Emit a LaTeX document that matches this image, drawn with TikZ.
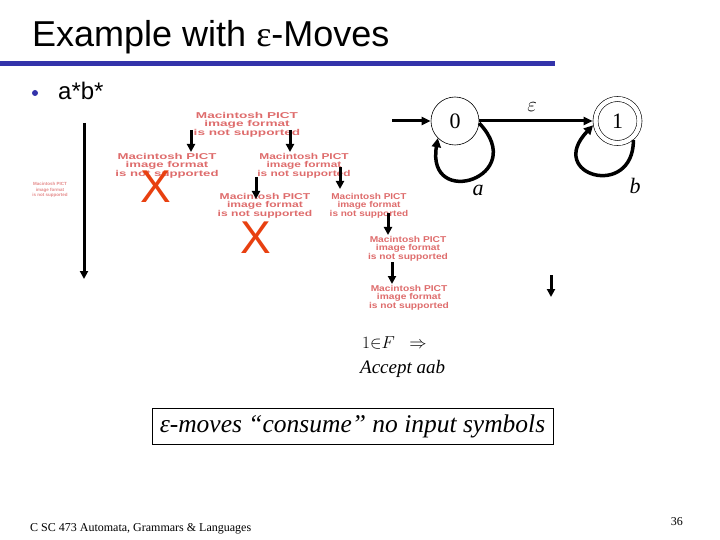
\documentclass[tikz,border=0pt]{standalone}
\usepackage{fontspec}
\setmainfont{Liberation Serif}
\setsansfont{Liberation Sans}
\usetikzlibrary{arrows.meta,positioning}

\definecolor{rulebar}{RGB}{51,51,170}
\definecolor{pictred}{RGB}{222,108,108}
\definecolor{crossred}{RGB}{232,64,16}

% placeholder text of the missing pictures
\newcommand{\pictmsg}[1][1.6]{\scalebox{#1}[1]{\def\arraystretch{0.85}%
  \begin{tabular}{@{}c@{}}Macintosh PICT\\image format\\is not supported\end{tabular}}}

\tikzset{
  pict/.style={font=\sffamily\bfseries\fontsize{8.5}{9}\selectfont, text=pictred, inner sep=0pt},
  tinypict/.style={font=\sffamily\bfseries\fontsize{4.5}{6.7}\selectfont, text=pictred!80, inner sep=0pt},
  cross/.style={font=\sffamily\fontsize{46}{46}\selectfont, text=crossred, inner sep=0pt},
  down/.style={line width=3pt, -{Triangle[length=8pt,width=8pt]}},
  state/.style={circle, draw, line width=0.6pt, minimum size=48pt, inner sep=0pt,
    font=\fontsize{22}{24}\selectfont},
  edge/.style={line width=3pt, -{Triangle[length=9pt,width=8pt]}},
  loopedge/.style={line width=3.5pt, -{Triangle[length=9pt,width=9pt]}},
  lbl/.style={font=\fontsize{22}{24}\selectfont\itshape, inner sep=0pt}
}

\begin{document}
\begin{tikzpicture}[x=1pt,y=-1pt]
\useasboundingbox (0,0) rectangle (720,540);

% Title and rule
\node[anchor=base west, inner sep=0pt, font=\sffamily\fontsize{36}{40}\selectfont] (title) at (32,47)
  {Example with {\rmfamily ε}-Moves};
\fill[rulebar] (0,61) rectangle (555,66);

% Bullet
\fill[rulebar] (35,93) circle (3);
\node[anchor=base west, inner sep=0pt, font=\sffamily\fontsize{24}{26}\selectfont] (regex) at (58,100) {a*b*};

% Missing pictures
\node[tinypict] (p0) at (50,190) {\pictmsg[1.0]};
\node[pict] (p1) at (247,125) {\pictmsg[1.6]};
\node[pict] (p2) at (167,166) {\pictmsg[1.55]};
\node[pict] (p3) at (304,166) {\pictmsg[1.4]};
\node[pict] (p4) at (265,206) {\pictmsg[1.42]};
\node[pict] (p5) at (369,206) {\pictmsg[1.18]};
\node[pict] (p6) at (408,249) {\pictmsg[1.2]};
\node[pict] (p7) at (409,298) {\pictmsg[1.2]};
\node[cross] (x1) at (156,187) {X};
\node[cross] (x2) at (256,238) {X};

% Arrows between the pictures
\coordinate (a1) at (84,123);   \coordinate (b1) at (84,279);
\coordinate (a2) at (191,130);  \coordinate (b2) at (191,152);
\coordinate (a3) at (290,130);  \coordinate (b3) at (290,152);
\coordinate (a4) at (340,167);  \coordinate (b4) at (340,189);
\coordinate (a5) at (256,177);  \coordinate (b5) at (256,199);
\coordinate (a6) at (388,213);  \coordinate (b6) at (388,235);
\coordinate (a7) at (392,262);  \coordinate (b7) at (392,284);
\coordinate (a8) at (551,275);  \coordinate (b8) at (551,297);
\foreach \i in {1,...,8}
  \draw[down] (a\i) -- (b\i);

% Automaton
\node[state] (s0) at (455,121) {0};
\node[state, double, double distance=4.4pt, minimum size=44pt, outer sep=2.8pt] (s1) at (617.5,121) {1};
\coordinate (init) at (392,121);
\draw[edge] (init) -- (s0);
\draw[edge] (s0) -- (s1);
\draw[loopedge] (s0.-5) .. controls +(51,54) and +(-12,72) .. (s0.-135);
\draw[loopedge] (s1.-50) .. controls +(0,60) and +(-48,50) .. (s1.190);
\node[lbl] (eps) at (532,107) {$\varepsilon$};
\node[lbl] (la) at (478,190) {a};
\node[lbl] (lb) at (635,186) {b};

% Acceptance note
\node[anchor=base west, inner sep=0pt, font=\fontsize{19}{21}\selectfont] (infin) at (362,348)
  {$1{\in}F\;\;\Rightarrow$};
\node[anchor=base west, inner sep=0pt, font=\fontsize{19}{21}\selectfont\itshape] (accept) at (360,373)
  {Accept aab};

% Boxed remark
\node[draw, line width=0.8pt, minimum width=401pt, minimum height=36pt, inner sep=0pt,
  font=\fontsize{25.5}{28}\selectfont\itshape] (remark) at (352.5,426)
  {ε-moves “consume” no input symbols};

% Footer
\node[anchor=base west, inner sep=0pt, font=\fontsize{12}{14}\selectfont] (footer) at (30,531)
  {C SC 473 Automata, Grammars \& Languages};
\node[anchor=base east, inner sep=0pt, font=\fontsize{12}{14}\selectfont] (pageno) at (683,525) {36};
\end{tikzpicture}
\end{document}
